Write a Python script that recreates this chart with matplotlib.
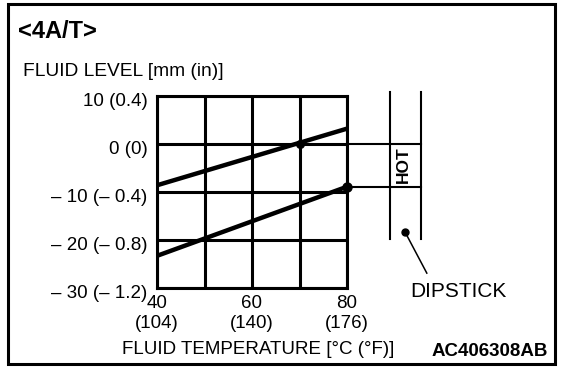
import matplotlib.pyplot as plt
import matplotlib.transforms as mtransforms
from matplotlib.patches import Rectangle

plt.rcParams['font.family'] = ['Liberation Sans', 'DejaVu Sans']

# axis ticks
temp_ticks = [40, 50, 60, 70, 80]
temp_tick_labels = ["40\n(104)", "", "60\n(140)", "", "80\n(176)"]
level_ticks = [10, 0, -10, -20, -30]
level_tick_labels = ["10 (0.4)", "0 (0)", "\u2013 10 (\u2013 0.4)",
                     "\u2013 20 (\u2013 0.8)", "\u2013 30 (\u2013 1.2)"]

# fluid level lines (temperature degC, level mm)
upper_temp = [40, 80]
upper_level = [-8.6, 3.2]
lower_temp = [40, 80]
lower_level = [-23.3, -8.9]
upper_dot = (70, 0)
lower_dot = (80, -8.9)

# dipstick drawing
hot_levels = [0, -8.9]
stick_x = [89.05, 95.6]
stick_y = [10.8, -19.8]
stick_dot = (92.2, -18.3)
leader_end = (96.8, -26.9)

fig = plt.figure(figsize=(5.76, 3.74), dpi=100)
ax = fig.add_axes([157 / 576, 1 - 288 / 374, 190 / 576, 192 / 374])
ax.set_xlim(40, 80)
ax.set_ylim(-30, 10)

# grid
for t in temp_ticks:
    ax.axvline(t, color='black', lw=2.2, zorder=1)
for lv in level_ticks:
    ax.axhline(lv, color='black', lw=2.2, zorder=1)
for s in ax.spines.values():
    s.set_linewidth(2.2)

ax.plot(upper_temp, upper_level, color='black', lw=3.2, solid_capstyle='butt', zorder=3)
ax.plot(lower_temp, lower_level, color='black', lw=3.2, solid_capstyle='butt', zorder=3)
ax.plot(*upper_dot, 'o', color='black', ms=5.5, zorder=4, clip_on=False)
ax.plot(*lower_dot, 'o', color='black', ms=6.5, zorder=4, clip_on=False)

ax.set_xticks(temp_ticks)
ax.set_xticklabels(temp_tick_labels, fontsize=13.5)
ax.set_yticks(level_ticks)
ax.set_yticklabels(level_tick_labels, fontsize=13.5)
ax.tick_params(length=0)
ax.tick_params(axis='x', pad=5)
ax.tick_params(axis='y', pad=7)
offset = mtransforms.ScaledTranslation(0, -0.04, fig.dpi_scale_trans)
for lbl in ax.get_yticklabels():
    lbl.set_transform(lbl.get_transform() + offset)

# dipstick
for lv in hot_levels:
    ax.plot([80, stick_x[1]], [lv, lv], color='black', lw=1.5, clip_on=False)
for sx in stick_x:
    ax.plot([sx, sx], stick_y, color='black', lw=1.5, clip_on=False)
ax.text(91.8, -4.3, 'HOT', rotation=90, ha='center', va='center',
        fontsize=12.5, weight='bold', clip_on=False)
ax.plot(*stick_dot, 'o', color='black', ms=5, clip_on=False)
ax.plot([stick_dot[0], leader_end[0]], [stick_dot[1], leader_end[1]],
        color='black', lw=1.1, clip_on=False)
ax.text(93.3, -30.8, 'DIPSTICK', ha='left', va='center', fontsize=15, clip_on=False)

# labels and frame
fig.text(18 / 576, 1 - 32 / 374, '<4A/T>', fontsize=17, weight='bold', va='center')
fig.text(23 / 576, 1 - 72 / 374, 'FLUID LEVEL [mm (in)]', fontsize=13.8, va='center')
fig.text(122 / 576, 1 - 350 / 374, 'FLUID TEMPERATURE [\u00b0C (\u00b0F)]', fontsize=13.5, va='center')
fig.text(548 / 576, 1 - 351 / 374, 'AC406308AB', fontsize=13.5, weight='bold',
         ha='right', va='center')
fig.patches.append(Rectangle((8 / 576, 1 - 364 / 374), 547 / 576, 360 / 374,
                             transform=fig.transFigure, fill=False, lw=2.2,
                             edgecolor='black'))

fig.savefig('out.png', dpi=100, facecolor='white')
